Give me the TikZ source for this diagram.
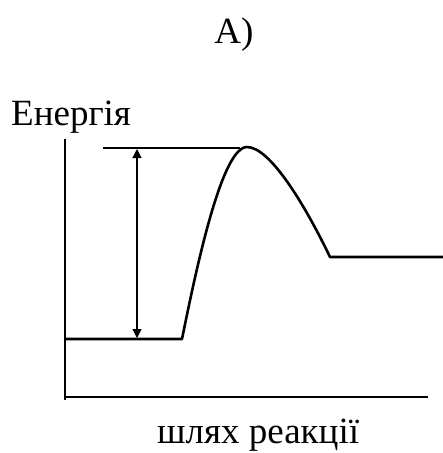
\documentclass[tikz,border=0pt]{standalone}
\usepackage{fontspec}
\setmainfont{Liberation Serif}
\usetikzlibrary{arrows.meta}
\begin{document}
\begin{tikzpicture}[x=1pt,y=-1pt,
  axis/.style={line width=1.3pt},
  thin line/.style={line width=1.2pt},
  curve/.style={line width=2.6pt, line join=round},
  lbl/.style={inner sep=0pt, anchor=base}]
\useasboundingbox (0,0) rectangle (443,453);
% labels
\node[lbl] (title) at (234,43) {\fontsize{37}{37}\selectfont A)};
\node[lbl, anchor=base west] (ylab) at (11,125) {\fontsize{37}{37}\selectfont Енергія};
\node[lbl, anchor=base west] (xlab) at (157,443) {\fontsize{37}{37}\selectfont шлях реакції};
% axes
\coordinate (o) at (65,397);
\coordinate (ytop) at (65,139);
\coordinate (xend) at (428,397);
\draw[axis] (ytop) -- (65,400) ;
\draw[axis] (o) -- (xend);
% top reference line
\coordinate (tl) at (103,148);
\coordinate (peak) at (247,147);
\draw[thin line] (tl) -- (240,148);
% energy profile
\coordinate (s0) at (65,339);
\coordinate (s1) at (182,339);
\coordinate (e0) at (330,257);
\coordinate (e1) at (443,257);
\draw[curve] (s0) -- (s1)
  .. controls (197,265) and (222,147) .. (peak)
  .. controls (270,147) and (305,205) .. (e0)
  -- (e1);
% activation arrow
\coordinate (a1) at (137,149);
\coordinate (a2) at (137,338);
\draw[thin line, {Triangle[width=9pt,length=9pt]}-{Triangle[width=9pt,length=9pt]}] (a1) -- (a2);
\end{tikzpicture}
\end{document}
